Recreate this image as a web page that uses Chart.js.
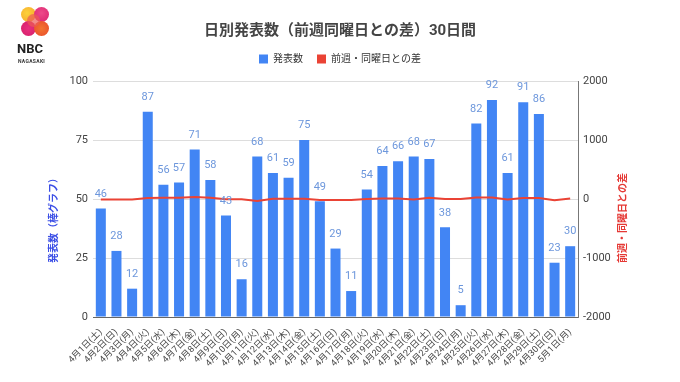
<!DOCTYPE html>
<html><head><meta charset="utf-8">
<script src="https://cdn.jsdelivr.net/npm/chart.js@4/dist/chart.umd.min.js"></script>
<style>
html,body{margin:0;padding:0;background:#fff;}
#wrap{position:relative;width:680px;height:382px;}
canvas{position:absolute;left:0;top:0;}
#logo{position:absolute;left:17px;top:7px;width:34px;height:60px;font-family:Roboto,"Liberation Sans",sans-serif;}
.c{position:absolute;width:15px;height:15px;border-radius:50%;}
#nbc{position:absolute;left:0;top:34px;font-size:13px;font-weight:bold;color:#222;letter-spacing:0px;}
#ngs{position:absolute;left:1px;top:51px;font-size:5px;font-weight:bold;color:#333;letter-spacing:0.3px;}
</style></head>
<body><div id="wrap"><canvas id="c" width="680" height="382"></canvas>
<div id="logo">
 <div class="c" style="left:4px;top:0;background:radial-gradient(circle at 40% 40%,#fcd23a,#f6a02b);"></div>
 <div class="c" style="left:17px;top:0;background:radial-gradient(circle at 50% 40%,#ee4a8a,#d9226e);"></div>
 <div class="c" style="left:4px;top:14px;background:radial-gradient(circle at 50% 50%,#e8307e,#d41f6a);"></div>
 <div class="c" style="left:17px;top:14px;background:radial-gradient(circle at 50% 50%,#f27530,#e84a2c);"></div>
 <div class="c" style="left:10px;top:7px;width:13px;height:13px;background:#ec5b55;opacity:0.7;"></div>
 <div id="nbc">NBC</div>
 <div id="ngs">NAGASAKI</div>
</div>
</div>
<script>
const categories = ["4月1日(土)","4月2日(日)","4月3日(月)","4月4日(火)","4月5日(水)","4月6日(木)","4月7日(金)","4月8日(土)","4月9日(日)","4月10日(月)","4月11日(火)","4月12日(水)","4月13日(木)","4月14日(金)","4月15日(土)","4月16日(日)","4月17日(月)","4月18日(火)","4月19日(水)","4月20日(木)","4月21日(金)","4月22日(土)","4月23日(日)","4月24日(月)","4月25日(火)","4月26日(水)","4月27日(木)","4月28日(金)","4月29日(土)","4月30日(日)","5月1日(月)"];
const counts = [46,28,12,87,56,57,71,58,43,16,68,61,59,75,49,29,11,54,64,66,68,67,38,5,82,92,61,91,86,23,30];
const diffs = [-10,-10,-10,15,20,20,35,20,-5,-5,-35,5,5,5,-15,-15,-15,0,10,10,-10,20,0,0,25,25,-10,15,15,-20,10];
const leftTicks = [0,25,50,75,100];
const rightTicks = [-2000,-1000,0,1000,2000];
const seriesNames = ["発表数","前週・同曜日との差"];
const chartTitle = "日別発表数（前週同曜日との差）30日間";
const leftAxisTitle = "発表数（棒グラフ）";
const rightAxisTitle = "前週・同曜日との差";

const FONT = 'Roboto, "Noto Sans CJK JP", sans-serif';

const labelPlugin = {
  id:'barLabels',
  afterDatasetsDraw(chart){
    const ctx = chart.ctx;
    const meta = chart.getDatasetMeta(0);
    ctx.save();
    ctx.font = '11px ' + FONT;
    ctx.fillStyle = '#6d97dc';
    ctx.textAlign = 'center';
    ctx.textBaseline = 'bottom';
    meta.data.forEach((el,i)=>{
      ctx.fillText(String(counts[i]), el.x, el.y - 9);
    });
    ctx.restore();
  }
};
const axisTitlePlugin = {
  id:'axisTitles',
  afterDraw(chart){
    const ctx = chart.ctx;
    const cy = 218;
    ctx.save();
    ctx.font = 'bold 10px ' + FONT;
    ctx.textAlign = 'center';
    ctx.textBaseline = 'middle';
    ctx.translate(54, cy);
    ctx.rotate(-Math.PI/2);
    ctx.fillStyle = '#3b4ee6';
    ctx.fillText(leftAxisTitle, 0, 0);
    ctx.restore();
    ctx.save();
    ctx.font = 'bold 10px ' + FONT;
    ctx.textAlign = 'center';
    ctx.textBaseline = 'middle';
    ctx.translate(623, cy);
    ctx.rotate(-Math.PI/2);
    ctx.fillStyle = '#e53935';
    ctx.fillText(rightAxisTitle, 0, 0);
    ctx.restore();
  }
};
const legendGap = {
  id:'legendGap',
  afterInit(chart){
    const lg = chart.legend;
    if(!lg) return;
    const orig = lg.fit;
    lg.fit = function(){ orig.call(this); this.height += 7; };
  }
};

new Chart(document.getElementById('c'), {
  data: {
    labels: categories,
    datasets: [
      {type:'bar', label: seriesNames[0], data: counts, backgroundColor:'#4285f4', yAxisID:'y', order:2,
       categoryPercentage:0.8, barPercentage:0.8},
      {type:'line', label: seriesNames[1], data: diffs, borderColor:'#ea4335', backgroundColor:'#ea4335',
       borderWidth:2, pointRadius:0, yAxisID:'y1', order:1, tension:0}
    ]
  },
  options: {
    responsive:false, animation:false, devicePixelRatio:1,
    layout:{padding:{left:0,right:0,top:5,bottom:0}},
    plugins:{
      title:{display:true, text:chartTitle, color:'#444', font:{family:FONT, size:15, weight:'bold'}, padding:{top:17,bottom:0}},
      legend:{display:true, position:'top',
        labels:{boxWidth:9, boxHeight:9, color:'#333', font:{family:FONT, size:10}, padding:14,
          generateLabels(chart){
            return chart.data.datasets.map((d,i)=>({text:d.label, fillStyle:d.backgroundColor, strokeStyle:d.backgroundColor, lineWidth:0, datasetIndex:i, hidden:false, fontColor:'#333'}));
          }}},
      tooltip:{enabled:false}
    },
    scales:{
      x:{grid:{display:false}, border:{display:true,color:'#666',width:1},
         ticks:{autoSkip:false, maxRotation:45, minRotation:45, color:'#444', font:{family:FONT,size:9}, padding:2},
         afterFit(s){ s.height = 65; }},
      y:{position:'left', min:0, max:100,
         afterBuildTicks(s){ s.ticks = leftTicks.map(v=>({value:v})); },
         grid:{color:'#dddddd', drawTicks:false}, border:{display:false},
         ticks:{color:'#444', font:{family:FONT,size:11}, padding:5, callback:v=>String(v)},
         afterFit(s){ s.width = 93; }},
      y1:{position:'right', min:-2000, max:2000,
         afterBuildTicks(s){ s.ticks = rightTicks.map(v=>({value:v})); },
         grid:{display:false, drawTicks:false}, border:{display:true,color:'#777',width:1},
         ticks:{color:'#444', font:{family:FONT,size:11}, padding:5, callback:v=>String(v)},
         afterFit(s){ s.width = 102; }}
    }
  },
  plugins:[labelPlugin, axisTitlePlugin, legendGap]
});
</script>
</body></html>
